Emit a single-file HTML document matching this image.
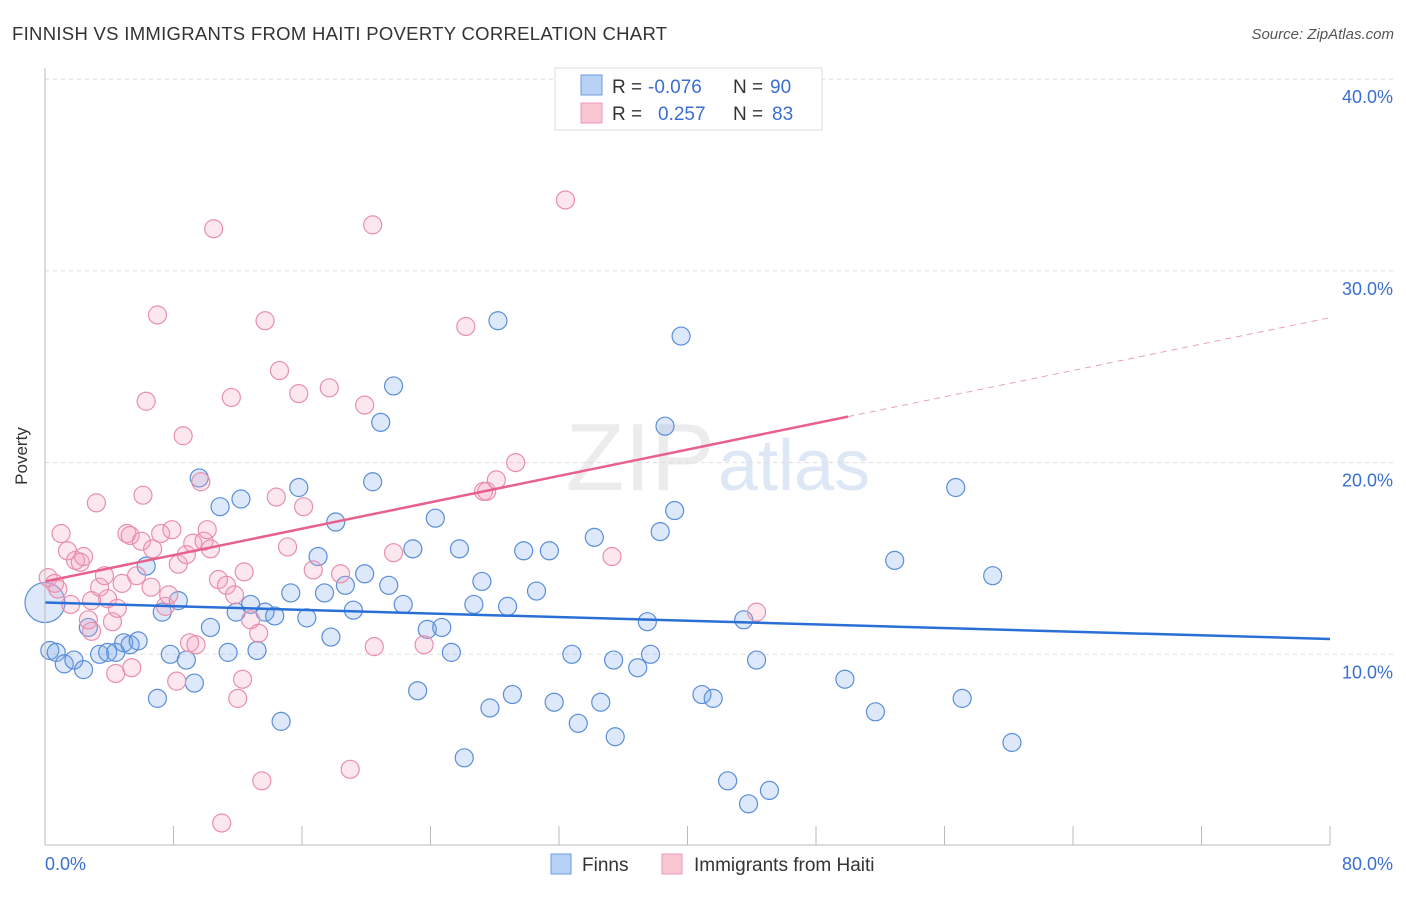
<!DOCTYPE html>
<html><head><meta charset="utf-8"><style>
body{margin:0;background:#fff;font-family:"Liberation Sans",sans-serif;}
svg text{font-family:"Liberation Sans",sans-serif;}
</style></head><body>
<svg id="chart" width="1406" height="892" xmlns="http://www.w3.org/2000/svg">
<text x="12" y="40" font-size="18.5" fill="#333" letter-spacing="0.3">FINNISH VS IMMIGRANTS FROM HAITI POVERTY CORRELATION CHART</text>
<text x="1394" y="39" font-size="15" fill="#555" text-anchor="end" font-style="italic">Source: ZipAtlas.com</text>
<text x="715" y="490" font-size="96" fill="#ececec" text-anchor="end" font-family="Liberation Serif">ZIP</text>
<text x="718" y="490" font-size="72" fill="#dde7f5">atlas</text>
<g id="grid"></g><g id="pts"></g><g id="lines"></g>
<line x1="45" y1="68" x2="45" y2="845" stroke="#bbb"/>
<line x1="45" y1="845" x2="1330" y2="845" stroke="#bbb"/>
<text x="27" y="456" font-size="17" fill="#333" transform="rotate(-90 27 456)" text-anchor="middle">Poverty</text>
<text x="45" y="870" font-size="18" fill="#3a6fd0">0.0%</text>
<text x="1393" y="870" font-size="18" fill="#3a6fd0" text-anchor="end">80.0%</text>
<g>
<rect x="555" y="68" width="267" height="62" fill="#fff" stroke="#ddd"/>
<rect x="581" y="75" width="21" height="20" fill="#b8d2f5" stroke="#6d9be0"/>
<rect x="581" y="103" width="21" height="20" fill="#f9c6d4" stroke="#ec9ab4"/>
<text x="612" y="93" font-size="19" fill="#333">R =</text><text x="648" y="93" font-size="19" fill="#3a6fd0">-0.076</text>
<text x="733" y="93" font-size="19" fill="#333">N =</text><text x="770" y="93" font-size="19" fill="#3a6fd0">90</text>
<text x="612" y="120" font-size="19" fill="#333">R =</text><text x="658" y="120" font-size="19" fill="#3a6fd0">0.257</text>
<text x="733" y="120" font-size="19" fill="#333">N =</text><text x="772" y="120" font-size="19" fill="#3a6fd0">83</text>
</g>
<g>
<rect x="551" y="854" width="20" height="20" fill="#b8d2f5" stroke="#6d9be0"/>
<text x="582" y="871" font-size="19" fill="#333">Finns</text>
<rect x="662" y="854" width="20" height="20" fill="#f9c6d4" stroke="#ec9ab4"/>
<text x="694" y="871" font-size="19" fill="#333">Immigrants from Haiti</text>
</g>
</svg>
<script>
const yTicks=[10,20,30,40];
const xTicks=[0,8,16,24,32,40,48,56,64,72,80];
const finnX=[0.3,0.7,1.2,1.8,2.4,2.7,3.4,3.9,4.4,4.9,5.3,5.8,6.3,7.0,7.3,7.8,8.3,8.8,9.3,9.6,10.3,10.9,11.4,11.9,12.2,12.8,13.2,13.7,14.3,14.7,15.3,15.8,16.3,17.0,17.4,18.1,17.8,18.7,19.2,19.9,20.4,20.9,21.4,21.7,22.3,22.9,23.2,23.8,24.3,24.7,25.3,25.8,26.1,26.7,27.2,27.7,28.2,28.8,29.1,29.8,30.6,31.4,31.7,32.8,33.2,34.2,34.6,35.4,35.5,36.9,37.5,37.7,38.3,38.6,39.2,39.6,40.9,41.6,42.5,43.5,43.8,44.3,45.1,49.8,51.7,52.9,56.7,57.1,59.0,60.2];
const finnY=[10.2,10.1,9.5,9.7,9.2,11.4,10.0,10.1,10.1,10.6,10.5,10.7,14.6,7.7,12.2,10.0,12.8,9.7,8.5,19.2,11.4,17.7,10.1,12.2,18.1,12.6,10.2,12.2,12.0,6.5,13.2,18.7,11.9,15.1,13.2,16.9,10.9,13.6,12.3,14.2,19.0,22.1,13.6,24.0,12.6,15.5,8.1,11.3,17.1,11.4,10.1,15.5,4.6,12.6,13.8,7.2,27.4,12.5,7.9,15.4,13.3,15.4,7.5,10.0,6.4,16.1,7.5,9.7,5.7,9.3,11.7,10.0,16.4,21.9,17.5,26.6,7.9,7.7,3.4,11.8,2.2,9.7,2.9,8.7,7.0,14.9,18.7,7.7,14.1,5.4];
const haitiX=[0.2,0.6,0.8,1.0,1.4,1.6,1.9,2.2,2.4,2.7,2.9,2.9,3.2,3.4,3.7,3.9,4.2,4.4,4.5,4.8,5.1,5.3,5.4,5.7,6.1,6.0,6.3,6.6,6.7,7.0,7.2,7.5,7.7,7.9,8.2,8.3,8.6,8.8,9.0,9.2,9.4,9.7,9.9,10.1,10.3,10.5,10.8,11.0,11.3,11.6,11.8,12.0,12.3,12.4,12.8,13.3,13.5,13.7,14.4,14.6,15.1,15.8,16.1,16.7,17.7,18.4,19.0,19.9,20.4,20.5,21.7,23.6,26.2,27.3,27.5,28.1,29.3,32.4,35.3,44.3];
const haitiY=[14.0,13.7,13.4,16.3,15.4,12.6,14.9,14.8,15.1,11.8,11.2,12.8,17.9,13.5,14.1,12.9,11.7,9.0,12.4,13.7,16.3,16.2,9.3,14.1,18.3,15.9,23.2,13.5,15.5,27.7,16.3,12.5,13.1,16.5,8.6,14.7,21.4,15.2,10.6,15.8,10.5,19.0,15.9,16.5,15.5,32.2,13.9,1.2,13.6,23.4,13.1,7.7,8.7,14.3,11.8,11.1,3.4,27.4,18.2,24.8,15.6,23.6,17.7,14.4,23.9,14.2,4.0,23.0,32.4,10.4,15.3,10.5,27.1,18.5,18.5,19.1,20.0,33.7,15.1,12.2];
const finnTrend=[12.7,10.8];
const haitiTrend=[13.8,27.56];
const haitiSolidEnd=50;
const NS='http://www.w3.org/2000/svg';
const sx=v=>45+v/80*1285;
const sy=v=>846-v*19.17;
function mk(tag,attrs,parent){const e=document.createElementNS(NS,tag);for(const k in attrs)e.setAttribute(k,attrs[k]);parent.appendChild(e);return e;}
const grid=document.getElementById('grid'),pts=document.getElementById('pts'),lines=document.getElementById('lines');
yTicks.forEach(t=>{
 const l=mk('line',{x1:45,x2:1393,y1:sy(t),y2:sy(t),stroke:'#ddd','stroke-dasharray':'4,4'},grid);
 
 
 const tx=mk('text',{x:1393,y:sy(t)+24,'font-size':18,fill:'#3a6fd0','text-anchor':'end'},grid);
 tx.textContent=t.toFixed(1)+'%';
 
 
});
xTicks.forEach(t=>{
 const l=mk('line',{x1:sx(t),x2:sx(t),y1:826,y2:845,stroke:'#bbb'},grid);
 
 
});
finnX.forEach((x,i)=>{
 const c=mk('circle',{cx:sx(x),cy:sy(finnY[i]),r:9,fill:'rgba(120,165,235,0.25)',stroke:'#5a8ed8','stroke-width':1.2},pts);
 
 
});
const big=mk('circle',{cx:sx(0),cy:sy(12.7),r:20,fill:'rgba(120,165,235,0.25)',stroke:'#5a8ed8','stroke-width':1.2},pts);


haitiX.forEach((x,i)=>{
 const c=mk('circle',{cx:sx(x),cy:sy(haitiY[i]),r:9,fill:'rgba(245,160,190,0.25)',stroke:'#e88fac','stroke-width':1.2},pts);
 
 
});
const fl=mk('line',{x1:sx(0),y1:sy(finnTrend[0]),x2:sx(80),y2:sy(finnTrend[1]),stroke:'#2a6fd6','stroke-width':2.5},lines);


const hm=haitiTrend[0]+(haitiTrend[1]-haitiTrend[0])*haitiSolidEnd/80;
const hl=mk('line',{x1:sx(0),y1:sy(haitiTrend[0]),x2:sx(haitiSolidEnd),y2:sy(hm),stroke:'#e8608c','stroke-width':2.5},lines);


const hd=mk('line',{x1:sx(haitiSolidEnd),y1:sy(hm),x2:sx(80),y2:sy(haitiTrend[1]),stroke:'#e8a0b8','stroke-width':1,'stroke-dasharray':'6,5'},lines);


</script>
</body></html>
